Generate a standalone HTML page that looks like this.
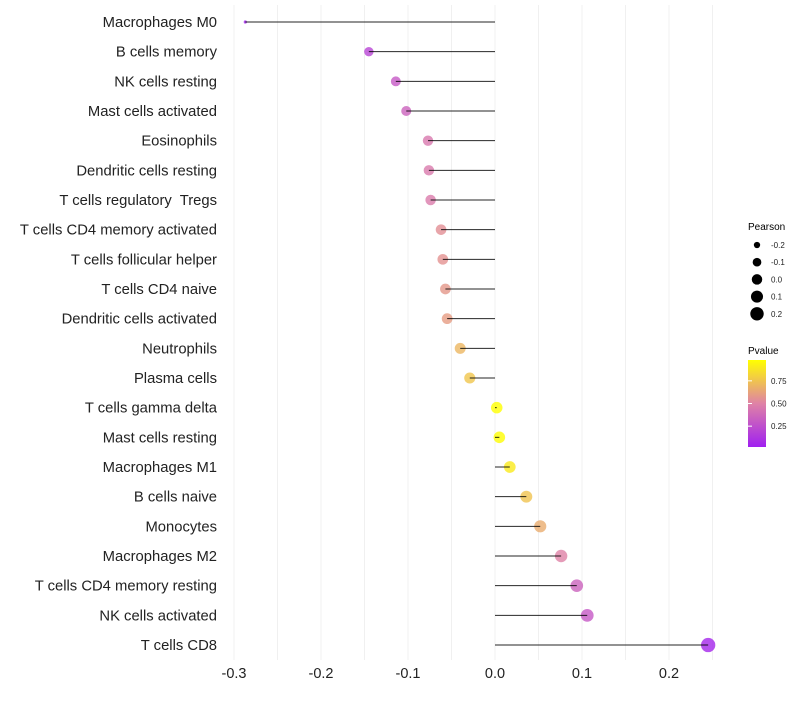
<!DOCTYPE html>
<html><head><meta charset="utf-8"><style>
body{margin:0;background:#fff;font-family:"Liberation Sans",sans-serif}
</style></head><body>
<svg id="chart" width="800" height="700" xmlns="http://www.w3.org/2000/svg">
<defs><linearGradient id="pg" x1="0" y1="1" x2="0" y2="0">
<stop offset="0" stop-color="#a020f0"/><stop offset="0.5" stop-color="#df82a6"/><stop offset="1" stop-color="#ffff00"/></linearGradient></defs>
<g id="grid"></g><g id="marks"></g><g id="axes"></g>
<g id="legend">
<text x="748" y="230" font-size="10">Pearson</text>
<g id="sizeleg"></g>
<text x="748" y="354" font-size="10">Pvalue</text>
<rect x="748" y="360" width="18" height="87" fill="url(#pg)"/>
<g id="colleg"></g>
</g>
</svg>
<script>
const categories=["Macrophages M0","B cells memory","NK cells resting","Mast cells activated","Eosinophils","Dendritic cells resting","T cells regulatory  Tregs","T cells CD4 memory activated","T cells follicular helper","T cells CD4 naive","Dendritic cells activated","Neutrophils","Plasma cells","T cells gamma delta","Mast cells resting","Macrophages M1","B cells naive","Monocytes","Macrophages M2","T cells CD4 memory resting","NK cells activated","T cells CD8"];
const pearson=[-0.287,-0.145,-0.114,-0.102,-0.077,-0.076,-0.074,-0.062,-0.060,-0.057,-0.055,-0.040,-0.029,0.002,0.005,0.017,0.036,0.052,0.076,0.094,0.106,0.245];
const pvalues=[0.03,0.2,0.3,0.35,0.45,0.46,0.47,0.55,0.56,0.58,0.6,0.7,0.76,0.98,0.97,0.9,0.75,0.66,0.5,0.35,0.3,0.05];
const xTicks=[-0.3,-0.2,-0.1,0.0,0.1,0.2];
const sizeLegend=[-0.2,-0.1,0.0,0.1,0.2];
const colorTicks=[0.25,0.5,0.75];
const NS="http://www.w3.org/2000/svg";
const X=v=>495+v*870;
const Y=i=>22+i*29.667;
const R=v=>v<-0.25?1.6:Math.sqrt(Math.max(2.25,33+75*v));
const RL=v=>Math.sqrt(Math.max(2.25,27.5+87.9*v));
function lerp(a,b,t){return a.map((x,i)=>Math.round(x+(b[i]-x)*t));}
function col(p){const t=(p-0.02)/0.96;const c0=[160,32,240],c1=[223,130,166],c2=[255,255,0];
const c=t<0.5?lerp(c0,c1,Math.max(0,t)/0.5):lerp(c1,c2,Math.min(1,(t-0.5)/0.5));return `rgb(${c})`;}
function el(tag,attrs,parent,txt){const e=document.createElementNS(NS,tag);for(const k in attrs)e.setAttribute(k,attrs[k]);if(txt!==undefined)e.textContent=txt;parent.appendChild(e);return e;}
const grid=document.getElementById('grid'),marks=document.getElementById('marks'),axes=document.getElementById('axes');
for(let v=-0.3;v<=0.2751;v+=0.05){const g=el('line',{x1:X(v),x2:X(v),y1:5,y2:660,stroke:'#f0f0f0','stroke-width':1},grid);

}
xTicks.forEach(v=>{const t=el('text',{x:X(v),y:678,'font-size':14.5,'text-anchor':'middle',fill:'#222'},axes,v.toFixed(1));

});
categories.forEach((c,i)=>{
const t=el('text',{x:217,y:Y(i)+5,'font-size':14.8,'text-anchor':'end',fill:'#222','xml:space':'preserve'},axes,c);
t.style.whiteSpace='pre';


const d=el('circle',{cx:X(pearson[i]),cy:Y(i),r:R(pearson[i]),fill:col(pvalues[i]),'fill-opacity':0.8},marks);


const l=el('line',{x1:X(0),x2:X(pearson[i]),y1:Y(i),y2:Y(i),stroke:'#000','stroke-width':1,'stroke-opacity':0.85},marks);


});
const sl=document.getElementById('sizeleg');
sizeLegend.forEach((v,i)=>{const y=245+i*17.2;
const c=el('circle',{cx:757,cy:y,r:RL(v),fill:'#000'},sl);


const t=el('text',{x:771,y:y+3,'font-size':8,fill:'#222'},sl,v.toFixed(1));

});
const cl=document.getElementById('colleg');
colorTicks.forEach(v=>{const y=447-(v-0.02)/0.96*87;
const ln=el('line',{x1:748,x2:752,y1:y,y2:y,stroke:'#fff'},cl);


const t=el('text',{x:771,y:y+3,'font-size':8,fill:'#222'},cl,v.toFixed(2));

});
</script>
</body></html>
